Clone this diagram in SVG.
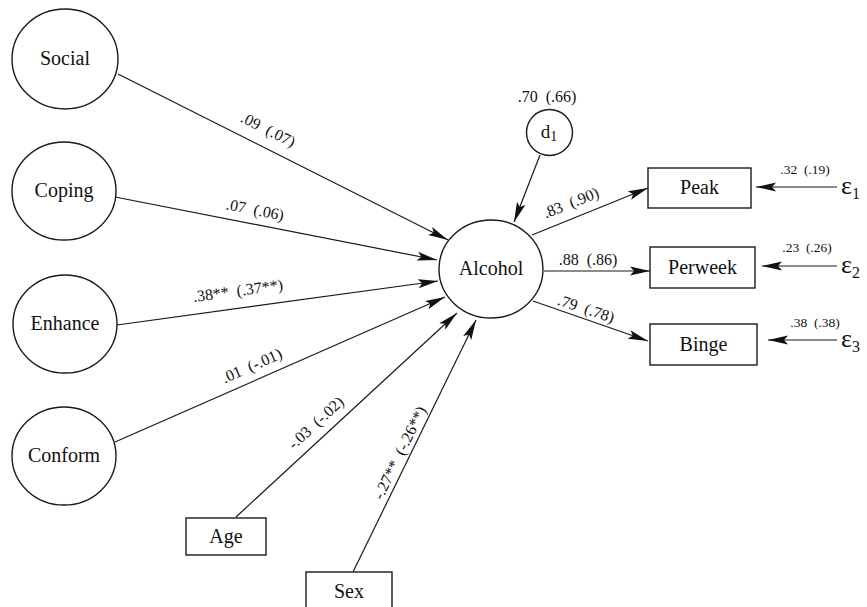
<svg xmlns="http://www.w3.org/2000/svg" width="867" height="607" viewBox="0 0 867 607">
<style>
text{font-family:'Liberation Serif','Times New Roman',serif;fill:#111}
.n{fill:#fff;stroke:#1a1a1a;stroke-width:1.4}
.t{font-size:20px;text-anchor:middle}
.e{font-size:16px;text-anchor:middle;white-space:pre}
.s{font-size:13.5px;text-anchor:middle;white-space:pre}
.g{font-size:26px}
.c line{stroke:#1a1a1a;stroke-width:1.2;marker-end:url(#a)}
</style>
<defs>
<marker id="a" markerUnits="userSpaceOnUse" markerWidth="22" markerHeight="12" refX="20" refY="5" orient="auto">
<path d="M0,0.5 L20,5 L0,9.5 L4,5 Z" fill="#111"/>
</marker>
</defs>
<rect width="867" height="607" fill="#fff"/>
<g id="connectors" class="c">
<line x1="118" y1="74" x2="448" y2="240"/>
<line x1="115" y1="197" x2="437" y2="260"/>
<line x1="117" y1="325" x2="438" y2="281"/>
<line x1="115" y1="442" x2="445" y2="297"/>
<line x1="236" y1="517" x2="457" y2="313"/>
<line x1="353" y1="572" x2="476" y2="320"/>
<line x1="540" y1="155" x2="514" y2="222"/>
<line x1="532" y1="235" x2="648" y2="188"/>
<line x1="544" y1="271" x2="650" y2="271"/>
<line x1="533" y1="301" x2="648" y2="341"/>
<line x1="837" y1="187" x2="756" y2="187"/>
<line x1="837" y1="266" x2="762" y2="266"/>
<line x1="837" y1="340" x2="768" y2="340"/>
</g>
<g id="edge-labels">
<text class="e" transform="translate(268,130) rotate(26.7)" dy="5">.09  (.07)</text>
<text class="e" transform="translate(255,210) rotate(11.1)" dy="5">.07  (.06)</text>
<text class="e" transform="translate(238,291) rotate(-7.8)" dy="5">.38**  (.37**)</text>
<text class="e" transform="translate(252,366) rotate(-23.7)" dy="5">.01  (-.01)</text>
<text class="e" transform="translate(316,423) rotate(-42.7)" dy="5">-.03  (-.02)</text>
<text class="e" transform="translate(400,453) rotate(-63.9)" dy="5">-.27**  (-.26**)</text>
<text class="e" transform="translate(571,203) rotate(-22)" dy="5">.83  (.90)</text>
<text class="e" transform="translate(588,260)" dy="5">.88  (.86)</text>
<text class="e" transform="translate(586,309) rotate(18.3)" dy="5">.79  (.78)</text>
<text class="e" x="547" y="102">.70  (.66)</text>
<text class="s" x="805" y="174">.32  (.19)</text>
<text class="s" x="807" y="252">.23  (.26)</text>
<text class="s" x="815" y="327">.38  (.38)</text>
</g>
<g id="social"><ellipse class="n" cx="65" cy="59" rx="53" ry="50"/><text class="t" x="65" y="65">Social</text></g>
<g id="coping"><ellipse class="n" cx="64" cy="191" rx="52" ry="49"/><text class="t" x="64" y="197">Coping</text></g>
<g id="enhance"><ellipse class="n" cx="65" cy="324" rx="52" ry="49"/><text class="t" x="65" y="330">Enhance</text></g>
<g id="conform"><ellipse class="n" cx="64" cy="456" rx="52" ry="49"/><text class="t" x="64" y="462">Conform</text></g>
<g id="alcohol"><ellipse class="n" cx="491" cy="269" rx="52" ry="49"/><text class="t" x="491" y="275">Alcohol</text></g>
<g id="d1"><circle class="n" cx="549.5" cy="132.5" r="23"/><text class="t" x="549" y="138" style="font-size:19px">d<tspan style="font-size:14px" dy="3">1</tspan></text></g>
<g id="peak"><rect class="n" x="648" y="168" width="103" height="40"/><text class="t" x="699.5" y="194">Peak</text></g>
<g id="perweek"><rect class="n" x="650" y="247" width="105" height="41"/><text class="t" x="702.5" y="274">Perweek</text></g>
<g id="binge"><rect class="n" x="650" y="324" width="107" height="41"/><text class="t" x="703.5" y="351">Binge</text></g>
<g id="age"><rect class="n" x="186" y="518" width="80" height="37"/><text class="t" x="226" y="543">Age</text></g>
<g id="sex"><rect class="n" x="306" y="572" width="86" height="40"/><text class="t" x="349" y="598">Sex</text></g>
<g id="e1"><text class="g" x="841" y="194">ε<tspan style="font-size:16px" dy="5">1</tspan></text></g>
<g id="e2"><text class="g" x="841" y="273">ε<tspan style="font-size:16px" dy="5">2</tspan></text></g>
<g id="e3"><text class="g" x="841" y="347">ε<tspan style="font-size:16px" dy="5">3</tspan></text></g>
</svg>
